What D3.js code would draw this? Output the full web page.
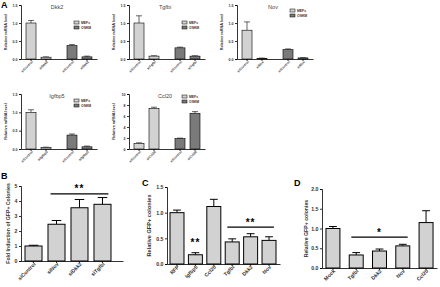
<!DOCTYPE html>
<html>
<head>
<meta charset="utf-8">
<script src="https://cdn.jsdelivr.net/npm/d3@7"></script>
<style>
	body { margin: 0; background: #fff; }
	svg { display: block; font-family: "Liberation Sans", Arial, sans-serif; }
</style>
</head>
<body>
<div id="plot"></div>
<script>

///////////////////////////////////////////////////////////////////////
// data

const a_groups = [ "MEFs", "OSKM" ];
const a_conds = [ "siControl", "siGene" ];

const dkk2_mean = [ 1.0, 0.05, 0.37, 0.06 ];
const dkk2_err = [ 0.07, 0.01, 0.03, 0.02 ];
const tgfbi_mean = [ 1.0, 0.08, 0.31, 0.08 ];
const tgfbi_err = [ 0.20, 0.01, 0.02, 0.01 ];
const nov_mean = [ 0.80, 0.02, 0.26, 0.03 ];
const nov_err = [ 0.23, 0.005, 0.02, 0.006 ];
const igfbp5_mean = [ 1.0, 0.04, 0.38, 0.06 ];
const igfbp5_err = [ 0.07, 0.01, 0.03, 0.02 ];
const ccl20_mean = [ 1.0, 7.4, 1.9, 6.5 ];
const ccl20_err = [ 0.12, 0.2, 0.08, 0.3 ];

const b_labels = [ "siControl", "siNov", "siDkk2", "siTgfbi" ];
const b_mean = [ 1.0, 2.45, 3.55, 3.78 ];
const b_err = [ 0.05, 0.25, 0.55, 0.45 ];

const c_labels = [ "RFP", "Igfbp5", "Ccl20", "Tgfbi", "Dkk2", "Nov" ];
const c_mean = [ 1.0, 0.18, 1.12, 0.43, 0.53, 0.46 ];
const c_err = [ 0.05, 0.04, 0.14, 0.06, 0.06, 0.07 ];

const d_labels = [ "Mock", "Tgfbi", "Dkk2", "Nov", "Ccl20" ];
const d_mean = [ 1.0, 0.33, 0.43, 0.56, 1.15 ];
const d_err = [ 0.05, 0.06, 0.05, 0.04, 0.30 ];

const col_light = "#d2d2d2";
const col_dark = "#7a7a7a";

///////////////////////////////////////////////////////////////////////

const svg = d3.select( "#plot" ).append( "svg" )
	.attr( "width", 440 )
	.attr( "height", 287 );

function style_text( sel, fs )	{

	sel.attr( "font-size", fs )
		.attr( "font-family", "Liberation Sans, Arial, sans-serif" )
		.attr( "font-weight", "bold" )
		.attr( "fill", "#333" );
}

function draw_y_axis( g, y, x0, ticks, fmt, fs )	{

	let ax = g.append( "g" )
		.attr( "transform", "translate(" + x0 + ",0)" )
		.call( d3.axisLeft( y ).tickValues( ticks ).tickFormat( d3.format( fmt ) ).tickSize( 2 ).tickPadding( 1.5 ) );
	ax.select( ".domain" ).attr( "stroke", "#000" ).attr( "stroke-width", 0.8 );
	ax.selectAll( ".tick line" ).attr( "stroke-width", 0.8 );
	style_text( ax.selectAll( "text" ), fs );
}

function rotate_labels( ax, fs )	{

	style_text( ax.selectAll( "text" ), fs );
	ax.selectAll( "text" )
		.attr( "text-anchor", "end" )
		.attr( "dy", "0.3em" )
		.attr( "transform", "translate(0,1) rotate(-45)" )
		.attr( "x", 0 )
		.attr( "y", 2 );
}

function draw_x_axis( g, x, y0, fs, text_fn )	{

	let ax = g.append( "g" )
		.attr( "transform", "translate(0," + y0 + ")" )
		.call( d3.axisBottom( x ).tickSize( 2 ).tickSizeOuter( 0 ).tickFormat( text_fn ) );
	ax.select( ".domain" ).attr( "stroke", "#000" ).attr( "stroke-width", 0.8 );
	ax.selectAll( ".tick line" ).attr( "stroke-width", 0.8 );
	rotate_labels( ax, fs );
	return ax;
}

function draw_bars( g, rows, y, cap_frac, sw )	{

	// rows: { x, w, v, e, fill }
	g.append( "g" ).selectAll( "line" )
		.data( rows )
		.join( "line" )
			.attr( "x1", d => d.x + d.w / 2 )
			.attr( "x2", d => d.x + d.w / 2 )
			.attr( "y1", d => y( d.v ) )
			.attr( "y2", d => y( d.v + d.e ) )
			.attr( "stroke", "#000" )
			.attr( "stroke-width", sw );
	g.append( "g" ).selectAll( "line" )
		.data( rows )
		.join( "line" )
			.attr( "x1", d => d.x + d.w / 2 - d.w * cap_frac )
			.attr( "x2", d => d.x + d.w / 2 + d.w * cap_frac )
			.attr( "y1", d => y( d.v + d.e ) )
			.attr( "y2", d => y( d.v + d.e ) )
			.attr( "stroke", "#000" )
			.attr( "stroke-width", sw );
	g.append( "g" ).selectAll( "rect" )
		.data( rows )
		.join( "rect" )
			.attr( "x", d => d.x )
			.attr( "y", d => y( d.v ) )
			.attr( "width", d => d.w )
			.attr( "height", d => y( 0 ) - y( d.v ) )
			.attr( "fill", d => d.fill )
			.attr( "stroke", "#000" )
			.attr( "stroke-width", sw );
}

///////////////////////////////////////////////////////////////////////
// panel A: five small qPCR plots

function draw_qpcr( x0, ytop, ybot, gene, means, errs, ymax, ticks, fmt, legend_dy )	{

	let g = svg.append( "g" );
	let x1 = x0 + 76;

	let y = d3.scaleLinear().domain( [ 0, ymax ] ).range( [ ybot, ytop ] );

	let xg = d3.scaleBand().domain( a_groups ).range( [ x0, x1 ] ).paddingInner( 0.146 ).paddingOuter( 0 );
	let xi = d3.scaleBand().domain( a_conds ).range( [ 0, xg.bandwidth() ] ).padding( 0.333 );

	let rows = [];
	a_groups.forEach( ( gr, gi ) => {
		a_conds.forEach( ( c, ci ) => {
			let k = gi * 2 + ci;
			rows.push( {
				x: xg( gr ) + xi( c ),
				w: xi.bandwidth(),
				v: means[ k ],
				e: errs[ k ],
				fill: gi == 0 ? col_light : col_dark
			} );
		} );
	} );

	draw_bars( g, rows, y, 0.3, 0.6 );
	draw_y_axis( g, y, x0, ticks, fmt, 3.6 );

	// baseline over the whole panel, then ticks per group
	let base = g.append( "g" )
		.attr( "transform", "translate(0," + ybot + ")" )
		.call( d3.axisBottom( d3.scaleLinear().range( [ x0, x1 ] ) ).tickValues( [] ).tickSizeOuter( 0 ) );
	base.select( ".domain" ).attr( "stroke", "#000" ).attr( "stroke-width", 0.8 );

	a_groups.forEach( gr => {
		let ax = g.append( "g" )
			.attr( "transform", "translate(" + xg( gr ) + "," + ybot + ")" )
			.call( d3.axisBottom( xi ).tickSize( 2 ).tickSizeOuter( 0 )
				.tickFormat( d => d == "siControl" ? "siControl" : "si" + gene ) );
		ax.select( ".domain" ).remove();
		ax.selectAll( ".tick line" ).attr( "stroke-width", 0.8 );
		rotate_labels( ax, 3.4 );
	} );

	g.append( "text" )
		.attr( "x", x0 - 14 )
		.attr( "y", ( ytop + ybot ) / 2 )
		.attr( "transform", "rotate(-90," + ( x0 - 14 ) + "," + ( ( ytop + ybot ) / 2 ) + ")" )
		.attr( "text-anchor", "middle" )
		.attr( "font-size", 3.8 )
		.attr( "font-weight", "bold" )
		.attr( "fill", "#333" )
		.text( "Relative mRNA level" );

	g.append( "text" )
		.attr( "x", x0 + 36 )
		.attr( "y", ytop + 4 )
		.attr( "text-anchor", "middle" )
		.attr( "font-size", 5.5 )
		.attr( "fill", "#444" )
		.text( gene );

	let leg = g.append( "g" ).attr( "transform", "translate(" + ( x0 + 53 ) + "," + ( ytop + legend_dy ) + ")" );
	[ col_light, col_dark ].forEach( ( c, i ) => {
		leg.append( "rect" )
			.attr( "x", 0 ).attr( "y", i * 5 )
			.attr( "width", 5 ).attr( "height", 3 )
			.attr( "fill", c ).attr( "stroke", "#000" ).attr( "stroke-width", 0.5 );
		leg.append( "text" )
			.attr( "x", 7 ).attr( "y", i * 5 + 2.6 )
			.attr( "font-size", 3.4 )
			.attr( "font-weight", "bold" )
			.attr( "fill", "#333" )
			.text( a_groups[ i ] );
	} );
}

draw_qpcr( 21, 5, 59, "Dkk2", dkk2_mean, dkk2_err, 1.5, [ 0, 0.5, 1, 1.5 ], ".1f", 16 );
draw_qpcr( 129, 5, 59, "Tgfbi", tgfbi_mean, tgfbi_err, 1.5, [ 0, 0.5, 1, 1.5 ], ".1f", 16 );
draw_qpcr( 237, 5, 59, "Nov", nov_mean, nov_err, 1.5, [ 0, 0.5, 1, 1.5 ], ".1f", 4 );
draw_qpcr( 21, 94, 149, "Igfbp5", igfbp5_mean, igfbp5_err, 1.5, [ 0, 0.5, 1, 1.5 ], ".1f", 5 );
draw_qpcr( 129, 94, 149, "Ccl20", ccl20_mean, ccl20_err, 10, [ 0, 2, 4, 6, 8, 10 ], "d", 1 );

///////////////////////////////////////////////////////////////////////
// panels B, C, D

function draw_simple( o )	{

	let g = svg.append( "g" );

	let x = d3.scaleBand().domain( o.labels ).range( [ o.x0, o.x1 ] )
		.paddingInner( o.pi ).paddingOuter( o.po ).align( o.align );
	let y = d3.scaleLinear().domain( [ 0, o.ymax ] ).range( [ o.ybot, o.ytop ] );

	let rows = o.labels.map( ( l, i ) => ( {
		x: x( l ), w: x.bandwidth(), v: o.mean[ i ], e: o.err[ i ], fill: col_light
	} ) );

	draw_bars( g, rows, y, 0.28, 1.0 );
	draw_y_axis( g, y, o.x0, o.ticks, o.fmt, 5.2 );
	draw_x_axis( g, x, o.ybot, o.xfs, d => d );

	g.append( "text" )
		.attr( "x", o.x0 - o.lab_dx )
		.attr( "y", ( o.ytop + o.ybot ) / 2 )
		.attr( "transform", "rotate(-90," + ( o.x0 - o.lab_dx ) + "," + ( ( o.ytop + o.ybot ) / 2 ) + ")" )
		.attr( "text-anchor", "middle" )
		.attr( "font-size", o.lab_fs )
		.attr( "font-weight", "bold" )
		.attr( "fill", "#333" )
		.text( o.ylabel );

	g.append( "text" )
		.attr( "x", o.letter_x ).attr( "y", o.letter_y )
		.attr( "font-size", 9 )
		.attr( "font-weight", "bold" )
		.text( o.letter );

	o.sig.forEach( s => {
		let xa = x( s.from ) + x.bandwidth() * 0.15;
		let xb = x( s.to ) + x.bandwidth() * 0.85;
		if( s.line )	{
			g.append( "line" )
				.attr( "x1", xa ).attr( "x2", xb )
				.attr( "y1", y( s.v ) ).attr( "y2", y( s.v ) )
				.attr( "stroke", "#000" ).attr( "stroke-width", 1.3 );
		}
		g.append( "text" )
			.attr( "x", ( xa + xb ) / 2 )
			.attr( "y", y( s.v ) - 1.5 )
			.attr( "text-anchor", "middle" )
			.attr( "font-size", 10 )
			.attr( "font-weight", "bold" )
			.attr( "letter-spacing", 1 )
			.text( s.txt );
	} );
}

draw_simple( {
	labels: b_labels, mean: b_mean, err: b_err,
	x0: 21, x1: 123, pi: 0.26, po: 0.348, align: 0.25,
	ytop: 186, ybot: 261, ymax: 5, ticks: [ 0, 1, 2, 3, 4, 5 ], fmt: "d",
	xfs: 5.2, ylabel: "Fold Induction of GFP+ Colonies", lab_dx: 11, lab_fs: 5.2,
	letter: "B", letter_x: 1, letter_y: 179,
	sig: [ { from: "siNov", to: "siTgfbi", v: 4.47, txt: "**", line: true } ]
} );

draw_simple( {
	labels: c_labels, mean: c_mean, err: c_err,
	x0: 167, x1: 280, pi: 0.24, po: 0.19, align: 0.43,
	ytop: 187, ybot: 264, ymax: 1.5, ticks: [ 0, 0.5, 1, 1.5 ], fmt: ".1f",
	xfs: 5.2, ylabel: "Relative GFP+ colonies", lab_dx: 16, lab_fs: 5.6,
	letter: "C", letter_x: 142, letter_y: 186,
	sig: [
		{ from: "Tgfbi", to: "Nov", v: 0.72, txt: "**", line: true },
		{ from: "Igfbp5", to: "Igfbp5", v: 0.32, txt: "**", line: false }
	]
} );

draw_simple( {
	labels: d_labels, mean: d_mean, err: d_err,
	x0: 322, x1: 437, pi: 0.4, po: 0.17, align: 0.5,
	ytop: 189, ybot: 268, ymax: 2.0, ticks: [ 0, 0.5, 1, 1.5, 2 ], fmt: ".1f",
	xfs: 5.2, ylabel: "Relative GFP+ colonies", lab_dx: 14, lab_fs: 5.2,
	letter: "D", letter_x: 294, letter_y: 186,
	sig: [ { from: "Tgfbi", to: "Nov", v: 0.78, txt: "*", line: true } ]
} );

svg.append( "text" )
	.attr( "x", 1 ).attr( "y", 8 )
	.attr( "font-size", 9 )
	.attr( "font-weight", "bold" )
	.text( "A" );

</script>
</body>
</html>
